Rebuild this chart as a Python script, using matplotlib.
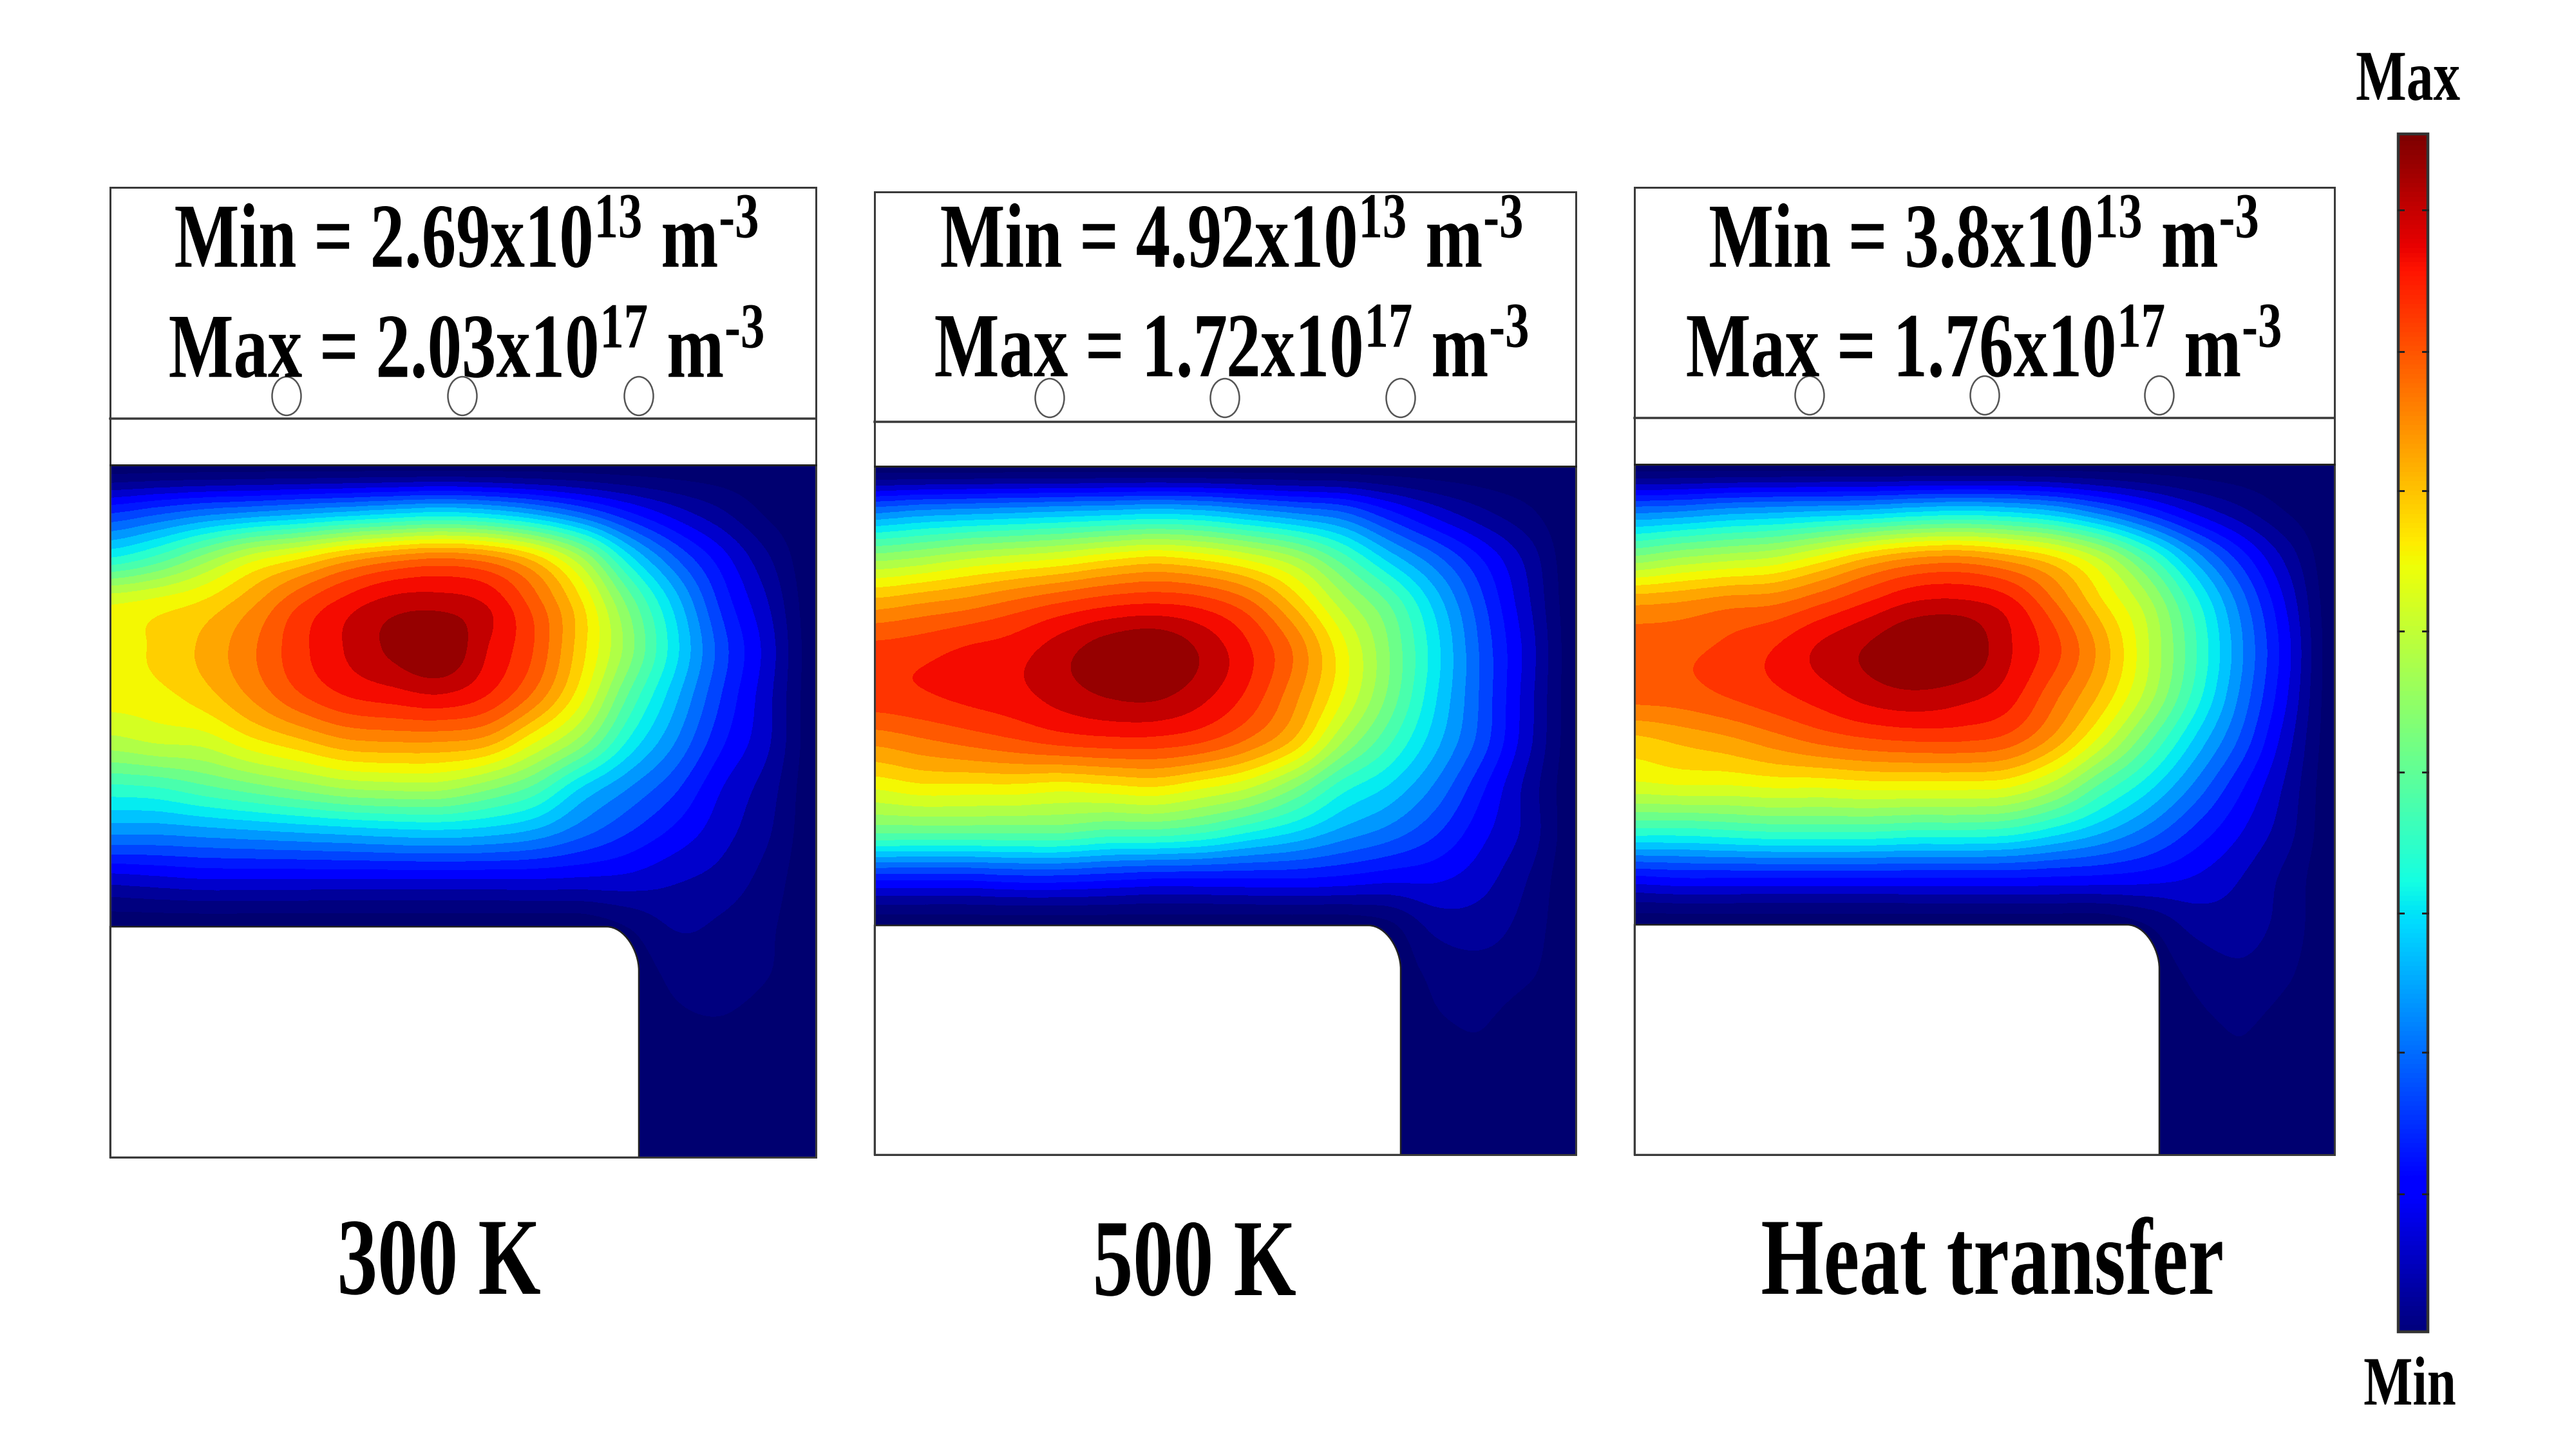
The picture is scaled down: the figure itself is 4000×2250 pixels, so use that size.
#!/usr/bin/env python
# Electron density maps for three discharge cases, with a shared jet scale.
import numpy as np
import matplotlib as mpl
mpl.use("Agg")
import matplotlib.pyplot as plt
from matplotlib.colors import BoundaryNorm, ListedColormap
from matplotlib.patches import Ellipse, PathPatch, Rectangle
from matplotlib.path import Path
from matplotlib.patheffects import AbstractPathEffect
from matplotlib.transforms import Affine2D

mpl.rc("font", family="Liberation Serif", weight="bold")
mpl.rc("mathtext", fontset="custom", rm="Liberation Serif:bold", default="regular")

case_labels = ["300 K", "500 K", "Heat transfer"]
min_labels = ["2.69x10", "4.92x10", "3.8x10"]
max_labels = ["2.03x10", "1.72x10", "1.76x10"]
min_exponent = "13"
max_exponent = "17"

# normalised density, 16 rows x 16 columns
density_300K = [
    [.01, .01, .01, .01, .01, .01, .01, .01, .01, .01, .01, .01, .01, .01, .008, .003],
    [.22, .25, .28, .30, .32, .34, .36, .375, .36, .32, .26, .19, .13, .08, .03, .005],
    [.42, .47, .55, .63, .68, .74, .78, .80, .78, .71, .58, .40, .27, .17, .08, .005],
    [.65, .67, .70, .76, .84, .90, .94, .945, .92, .83, .70, .53, .37, .22, .115, .008],
    [.67, .70, .74, .80, .87, .925, .97, 1.0, .925, .846, .71, .56, .40, .25, .135, .01],
    [.67, .68, .715, .775, .84, .885, .905, .92, .885, .80, .67, .50, .36, .23, .125, .01],
    [.60, .62, .63, .68, .72, .76, .77, .77, .75, .66, .56, .42, .31, .20, .12, .01],
    [.45, .46, .49, .52, .55, .58, .59, .59, .55, .49, .385, .31, .24, .155, .095, .008],
    [.31, .31, .32, .33, .34, .35, .36, .365, .355, .33, .28, .23, .18, .13, .08, .008],
    [.13, .14, .15, .15, .15, .15, .15, .15, .15, .15, .145, .14, .12, .10, .06, .005],
    [.01, .01, .01, .01, .01, .01, .01, .01, .01, .01, .01, .04, .08, .07, .045, .005],
    [.00, .00, .00, .00, .00, .00, .00, .00, .00, .00, .00, .01, .05, .06, .04, .005],
    [.00, .00, .00, .00, .00, .00, .00, .00, .00, .00, .00, .005, .03, .037, .02, .003],
    [.00, .00, .00, .00, .00, .00, .00, .00, .00, .00, .00, .00, .01, .015, .01, .003],
    [.00, .00, .00, .00, .00, .00, .00, .00, .00, .00, .00, .00, .004, .004, .004, .003],
    [.00, .00, .00, .00, .00, .00, .00, .00, .00, .00, .00, .00, .004, .004, .004, .003],
]
density_500K = [
    [.01, .01, .01, .01, .01, .01, .01, .01, .01, .01, .01, .01, .01, .01, .008, .003],
    [.30, .32, .33, .34, .35, .36, .37, .36, .33, .30, .27, .20, .135, .085, .045, .005],
    [.56, .58, .61, .63, .65, .68, .70, .68, .64, .58, .48, .37, .28, .19, .10, .005],
    [.75, .77, .79, .82, .85, .875, .885, .87, .82, .72, .60, .50, .37, .24, .12, .008],
    [.86, .87, .89, .905, .945, .985, 1.0, .955, .89, .80, .67, .54, .40, .26, .135, .01],
    [.87, .88, .895, .91, .94, .965, .97, .935, .875, .78, .66, .53, .39, .26, .13, .01],
    [.78, .80, .82, .84, .86, .87, .87, .85, .80, .72, .58, .47, .36, .25, .125, .01],
    [.66, .68, .68, .68, .67, .68, .69, .66, .62, .54, .44, .38, .30, .20, .10, .008],
    [.50, .50, .50, .50, .50, .48, .48, .46, .42, .38, .33, .29, .235, .165, .10, .008],
    [.20, .20, .20, .21, .21, .20, .19, .19, .19, .19, .18, .165, .16, .13, .075, .005],
    [.01, .01, .01, .01, .01, .01, .01, .01, .01, .01, .01, .03, .09, .095, .06, .005],
    [.00, .00, .00, .00, .00, .00, .00, .00, .00, .00, .00, .01, .05, .063, .045, .005],
    [.00, .00, .00, .00, .00, .00, .00, .00, .00, .00, .00, .005, .035, .042, .02, .003],
    [.00, .00, .00, .00, .00, .00, .00, .00, .00, .00, .00, .00, .02, .03, .01, .003],
    [.00, .00, .00, .00, .00, .00, .00, .00, .00, .00, .00, .00, .004, .004, .004, .003],
    [.00, .00, .00, .00, .00, .00, .00, .00, .00, .00, .00, .00, .004, .004, .004, .003],
]
density_heat = [
    [.01, .01, .01, .01, .01, .01, .01, .01, .01, .01, .01, .01, .01, .01, .008, .003],
    [.29, .30, .32, .33, .34, .35, .37, .38, .37, .34, .28, .21, .14, .085, .035, .005],
    [.54, .57, .59, .61, .66, .72, .76, .77, .74, .69, .60, .47, .33, .21, .10, .005],
    [.76, .77, .79, .80, .84, .885, .925, .93, .90, .81, .70, .59, .44, .29, .145, .008],
    [.83, .835, .855, .885, .93, .965, 1.0, 1.0, .93, .86, .755, .62, .47, .315, .165, .01],
    [.825, .83, .85, .875, .905, .94, .955, .94, .905, .82, .725, .60, .45, .30, .155, .01],
    [.72, .74, .76, .79, .82, .84, .85, .85, .83, .755, .64, .51, .38, .26, .13, .01],
    [.64, .65, .65, .66, .66, .67, .67, .67, .66, .595, .49, .40, .30, .20, .105, .008],
    [.44, .44, .45, .46, .46, .46, .45, .45, .44, .40, .35, .29, .22, .155, .09, .008],
    [.18, .19, .19, .19, .19, .19, .19, .19, .19, .185, .18, .17, .15, .115, .065, .005],
    [.01, .01, .01, .01, .01, .01, .01, .01, .01, .01, .01, .04, .09, .095, .06, .005],
    [.00, .00, .00, .00, .00, .00, .00, .00, .00, .00, .00, .01, .05, .07, .045, .005],
    [.00, .00, .00, .00, .00, .00, .00, .00, .00, .00, .00, .005, .03, .045, .025, .003],
    [.00, .00, .00, .00, .00, .00, .00, .00, .00, .00, .00, .00, .015, .03, .01, .003],
    [.00, .00, .00, .00, .00, .00, .00, .00, .00, .00, .00, .00, .004, .004, .004, .003],
    [.00, .00, .00, .00, .00, .00, .00, .00, .00, .00, .00, .00, .004, .004, .004, .003],
]
density_maps = [density_300K, density_500K, density_heat]

n_levels = 26

# layout, everything in pixels of the 4000x2250 picture
panel_left = [171, 1358, 2538]
panel_right = [1267, 2447, 3625]
box_top = [291, 298, 291]
divider_y = [650, 655, 649]
field_top = [722, 724, 721]
electrode_top = [1439, 1437, 1436]
field_bottom = [1797, 1793, 1793]
electrode_right = [992, 2175, 3353]
corner_w, corner_h = 50, 68
hole_x = [[445, 718, 992], [1630, 1902, 2175], [2810, 3082, 3353]]
hole_y = [615, 618, 614]
text_x = [724, 1912, 3080]
min_base = [415, 415, 415]
max_base = [586, 585, 585]
case_x = [681, 1854, 3094]
case_base = [2009, 2011, 2009]

bar_left, bar_right, bar_top, bar_bottom = 3724, 3770, 208, 2068
bar_ticks = [326, 546, 762, 980, 1199, 1418, 1634, 1854]

edge = "#3a3a3a"
px = 72.0 / 250.0  # one picture pixel in points


class Squeeze(AbstractPathEffect):
    """The reference text is a condensed serif, so narrow the glyphs."""

    def __init__(self, sx):
        super().__init__()
        self.sx = sx

    def draw_path(self, renderer, gc, tpath, affine, rgbFace=None):
        box = tpath.get_extents(affine)
        xc = 0.5 * (box.x0 + box.x1)
        squeezed = affine + Affine2D().translate(-xc, 0).scale(self.sx, 1).translate(xc, 0)
        renderer.draw_path(gc, tpath, squeezed, rgbFace)


def label(ax, x, y, s, size, sx):
    ax.text(x, y, s, fontsize=size, ha="center", va="baseline", color="black",
            path_effects=[Squeeze(sx)], zorder=6)


jet = plt.get_cmap("jet")
# band colours as sampled from the maps: two navy tones at the bottom, 150,0,0 on top
band_colors = jet(np.clip(0.11 + 0.0414 * (np.arange(n_levels) - 4), 0, 1))
band_colors[0] = (0, 0, 112 / 255, 1)
band_cmap = ListedColormap(band_colors)
band_norm = BoundaryNorm(np.linspace(0, 1, n_levels + 1), n_levels, clip=True)

fig = plt.figure(figsize=(16, 9), dpi=250)
ax = fig.add_axes([0, 0, 1, 1])
ax.axis("off")

for i in range(3):
    x0, x1 = panel_left[i], panel_right[i]
    y0, y1 = field_top[i], field_bottom[i]
    grid = np.array(density_maps[i])
    dx = (x1 - x0) / (grid.shape[1] - 1)
    dy = (y1 - y0) / (grid.shape[0] - 1)

    # catrom goes through the read values, agg's bicubic smooths them away
    im = ax.imshow(grid, cmap=band_cmap, norm=band_norm, aspect="auto",
                   interpolation="catrom", interpolation_stage="data",
                   extent=[x0 - dx / 2, x1 + dx / 2, y1 + dy / 2, y0 - dy / 2],
                   zorder=1)
    im.set_clip_path(Rectangle((x0, y0), x1 - x0, y1 - y0, transform=ax.transData))

    # powered electrode, white block with one rounded corner
    xr, yt = electrode_right[i], electrode_top[i]
    verts = [(x0, yt), (xr - corner_w, yt),
             (xr - corner_w * 0.45, yt), (xr, yt + corner_h * 0.55), (xr, yt + corner_h),
             (xr, y1), (x0, y1), (x0, yt)]
    codes = [Path.MOVETO, Path.LINETO, Path.CURVE4, Path.CURVE4, Path.CURVE4,
             Path.LINETO, Path.LINETO, Path.CLOSEPOLY]
    ax.add_patch(PathPatch(Path(verts, codes), facecolor="white", edgecolor="#222222",
                           lw=2.5 * px, zorder=2))

    # outer frame and the two horizontal lines
    ax.add_patch(Rectangle((x0, box_top[i]), x1 - x0, y1 - box_top[i], fill=False,
                           edgecolor=edge, lw=3 * px, zorder=3))
    ax.plot([x0, x1], [divider_y[i]] * 2, color=edge, lw=3.5 * px, zorder=3)
    ax.plot([x0, x1], [y0] * 2, color="#222222", lw=3 * px, zorder=3)

    for hx in hole_x[i]:
        ax.add_patch(Ellipse((hx, hole_y[i]), 45, 60, fill=False, edgecolor="#555555",
                             lw=2.5 * px, zorder=5))

    label(ax, text_x[i], min_base[i],
          "Min = " + min_labels[i] + "$^{" + min_exponent + r"}$ m$^{\text{-}3}$", 41, 0.75)
    label(ax, text_x[i], max_base[i],
          "Max = " + max_labels[i] + "$^{" + max_exponent + r"}$ m$^{\text{-}3}$", 41, 0.75)
    label(ax, case_x[i], case_base[i], case_labels[i], 49, 0.735)

# colour scale
gradient = np.linspace(1, 0, 256).reshape(-1, 1)
ax.imshow(gradient, cmap=jet, vmin=0, vmax=1, aspect="auto", interpolation="bilinear",
          extent=[bar_left, bar_right, bar_bottom, bar_top], zorder=1)
ax.add_patch(Rectangle((bar_left, bar_top), bar_right - bar_left, bar_bottom - bar_top,
                       fill=False, edgecolor="#333333", lw=4.5 * px, zorder=3))
for ty in bar_ticks:
    ax.plot([bar_left, bar_left + 8], [ty, ty], color="#222222", lw=3 * px, zorder=3)
    ax.plot([bar_right - 8, bar_right], [ty, ty], color="#222222", lw=3 * px, zorder=3)

label(ax, 3739, 155, "Max", 32, 0.75)
label(ax, 3742, 2181, "Min", 31, 0.75)

ax.set_xlim(0, 4000)
ax.set_ylim(2250, 0)

fig.savefig("out.png", dpi=250, facecolor="white")
